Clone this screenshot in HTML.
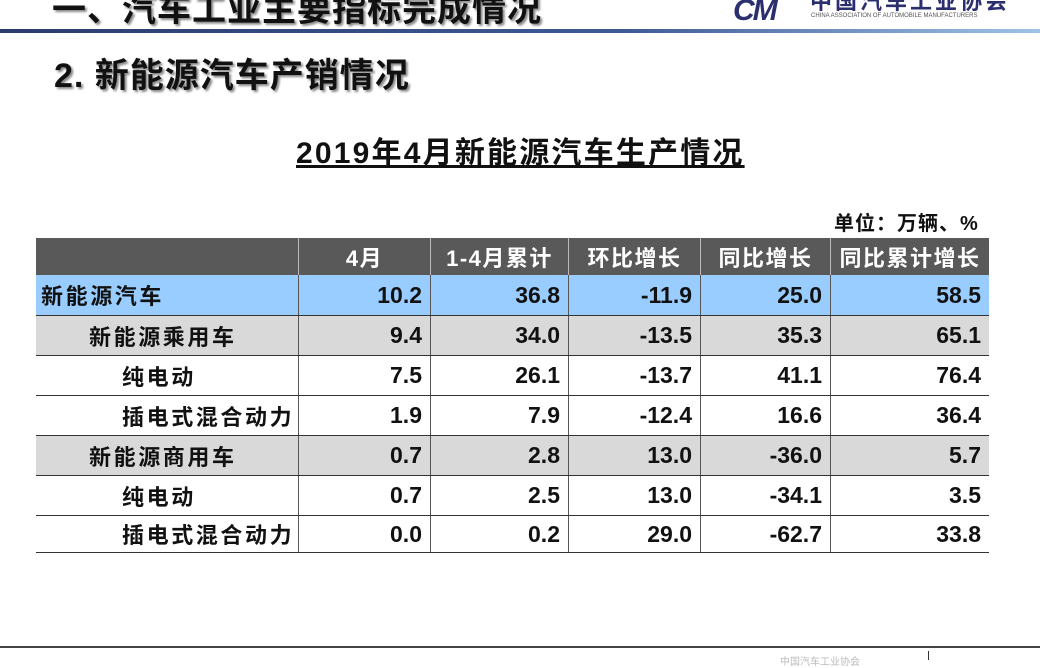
<!DOCTYPE html>
<html><head><meta charset="utf-8"><style>
body{margin:0;width:1040px;height:660px;background:#fff;position:relative;overflow:hidden;font-family:"Liberation Sans","Noto Sans CJK SC",sans-serif;}
.a{position:absolute;white-space:nowrap;}
.h1{left:52px;top:-18px;font-size:34px;font-weight:bold;color:#111;text-shadow:2px 2px 2px #888;letter-spacing:1px;}
.h2{left:54px;top:48px;font-size:34px;font-weight:bold;color:#111;text-shadow:2px 2px 2px #888;letter-spacing:1px;}
.bar{left:0;top:29px;width:1040px;height:4px;background:linear-gradient(90deg,#2b3b6e,#3e5a96 60%,#9fc3e8);}
.title{left:296px;top:128px;font-size:30px;font-weight:bold;text-decoration:underline;letter-spacing:2.2px;color:#111;}
.unit{left:834px;top:207px;font-size:20px;font-weight:bold;color:#111;letter-spacing:1px;}
.row{position:absolute;left:36px;width:953px;}
.c{position:absolute;top:0;height:100%;display:flex;align-items:center;font-size:22px;font-weight:bold;color:#111;box-sizing:border-box;}
.num{justify-content:flex-end;padding-right:8px;border-left:1px solid #555;font-size:23px;}
.hd .c{color:#fff;justify-content:center;padding:0;border-left:1px solid #bbb;letter-spacing:1.5px;}
.lbl{letter-spacing:2.6px;}
</style></head><body>
<div class="a h1">一、汽车工业主要指标完成情况</div>
<div class="a" style="left:733px;top:-6px;font-size:30px;font-weight:bold;color:#2b2f6e;font-style:italic;letter-spacing:-2px;">CM</div>
<div class="a" style="left:810px;top:-16px;font-size:22px;font-weight:bold;color:#2b2f6e;letter-spacing:3px;">中国汽车工业协会</div>
<div class="a" style="left:811px;top:13px;font-size:6px;color:#555;">CHINA ASSOCIATION OF AUTOMOBILE MANUFACTURERS</div>
<div class="a bar"></div>
<div class="a h2">2. 新能源汽车产销情况</div>
<div class="a title">2019年4月新能源汽车生产情况</div>
<div class="a unit">单位：万辆、%</div>

<div class="row hd" style="top:238px;height:37px;background:#595959;">
<div class="c" style="left:0;width:262px;border-left:none"></div>
<div class="c" style="left:262px;width:132px">4月</div>
<div class="c" style="left:394px;width:138px">1-4月累计</div>
<div class="c" style="left:532px;width:132px">环比增长</div>
<div class="c" style="left:664px;width:130px">同比增长</div>
<div class="c" style="left:794px;width:159px">同比累计增长</div>
</div>

<div class="row" style="top:275px;height:40px;background:#99ccff;border-bottom:1px solid #333">
<div class="c lbl" style="left:5px">新能源汽车</div>
<div class="c num" style="left:262px;width:132px">10.2</div>
<div class="c num" style="left:394px;width:138px">36.8</div>
<div class="c num" style="left:532px;width:132px">-11.9</div>
<div class="c num" style="left:664px;width:130px">25.0</div>
<div class="c num" style="left:794px;width:159px">58.5</div>
</div>
<div class="row" style="top:316px;height:39px;background:#d9d9d9;border-bottom:1px solid #333">
<div class="c lbl" style="left:53px">新能源乘用车</div>
<div class="c num" style="left:262px;width:132px">9.4</div>
<div class="c num" style="left:394px;width:138px">34.0</div>
<div class="c num" style="left:532px;width:132px">-13.5</div>
<div class="c num" style="left:664px;width:130px">35.3</div>
<div class="c num" style="left:794px;width:159px">65.1</div>
</div>
<div class="row" style="top:356px;height:39px;background:#fff;border-bottom:1px solid #333">
<div class="c lbl" style="left:86px">纯电动</div>
<div class="c num" style="left:262px;width:132px">7.5</div>
<div class="c num" style="left:394px;width:138px">26.1</div>
<div class="c num" style="left:532px;width:132px">-13.7</div>
<div class="c num" style="left:664px;width:130px">41.1</div>
<div class="c num" style="left:794px;width:159px">76.4</div>
</div>
<div class="row" style="top:396px;height:39px;background:#fff;border-bottom:1px solid #333">
<div class="c lbl" style="left:86px">插电式混合动力</div>
<div class="c num" style="left:262px;width:132px">1.9</div>
<div class="c num" style="left:394px;width:138px">7.9</div>
<div class="c num" style="left:532px;width:132px">-12.4</div>
<div class="c num" style="left:664px;width:130px">16.6</div>
<div class="c num" style="left:794px;width:159px">36.4</div>
</div>
<div class="row" style="top:436px;height:39px;background:#d9d9d9;border-bottom:1px solid #333">
<div class="c lbl" style="left:53px">新能源商用车</div>
<div class="c num" style="left:262px;width:132px">0.7</div>
<div class="c num" style="left:394px;width:138px">2.8</div>
<div class="c num" style="left:532px;width:132px">13.0</div>
<div class="c num" style="left:664px;width:130px">-36.0</div>
<div class="c num" style="left:794px;width:159px">5.7</div>
</div>
<div class="row" style="top:476px;height:39px;background:#fff;border-bottom:1px solid #333">
<div class="c lbl" style="left:86px">纯电动</div>
<div class="c num" style="left:262px;width:132px">0.7</div>
<div class="c num" style="left:394px;width:138px">2.5</div>
<div class="c num" style="left:532px;width:132px">13.0</div>
<div class="c num" style="left:664px;width:130px">-34.1</div>
<div class="c num" style="left:794px;width:159px">3.5</div>
</div>
<div class="row" style="top:516px;height:36px;background:#fff;border-bottom:1px solid #333">
<div class="c lbl" style="left:86px">插电式混合动力</div>
<div class="c num" style="left:262px;width:132px">0.0</div>
<div class="c num" style="left:394px;width:138px">0.2</div>
<div class="c num" style="left:532px;width:132px">29.0</div>
<div class="c num" style="left:664px;width:130px">-62.7</div>
<div class="c num" style="left:794px;width:159px">33.8</div>
</div>

<div class="a" style="left:0;top:646px;width:1040px;height:2px;background:#444;"></div>
<div class="a" style="left:928px;top:651px;width:1px;height:9px;background:#333;"></div>
<div class="a" style="left:780px;top:653px;font-size:10px;color:#bbb;">中国汽车工业协会</div>
</body></html>
